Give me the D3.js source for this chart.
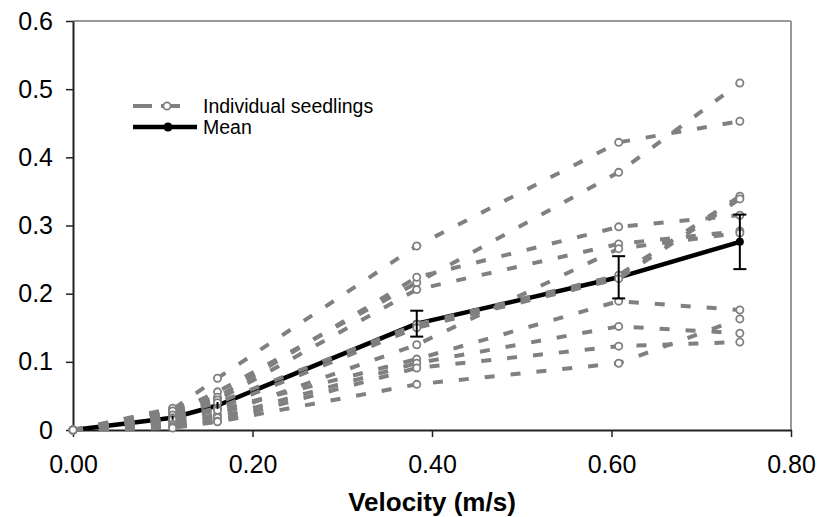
<!DOCTYPE html>
<html>
<head>
<meta charset="utf-8">
<script src="https://cdn.jsdelivr.net/npm/d3@7"></script>
<style>
  body { margin: 0; background: #fff; }
  svg { display: block; font-family: "Liberation Sans", Arial, sans-serif; }
</style>
</head>
<body>
<div id="chart"></div>
<script>
// data
var velocity = [0, 0.111, 0.161, 0.383, 0.608, 0.743];

var seedlings = [
    [0, 0.030, 0.076, 0.270, 0.422, 0.453],
    [0, 0.025, 0.056, 0.216, 0.378, 0.509],
    [0, 0.032, 0.048, 0.224, 0.298, 0.315],
    [0, 0.028, 0.044, 0.206, 0.273, 0.292],
    [0, 0.022, 0.040, 0.155, 0.227, 0.343],
    [0, 0.018, 0.032, 0.150, 0.222, 0.339],
    [0, 0.012, 0.022, 0.125, 0.266, 0.289],
    [0, 0.015, 0.029, 0.104, 0.189, 0.176],
    [0, 0.008, 0.018, 0.098, 0.152, 0.142],
    [0, 0.005, 0.013, 0.091, 0.123, 0.129],
    [0, 0.003, 0.012, 0.067, 0.098, 0.163]
];

var meanValues = [0, 0.018, 0.036, 0.156, 0.224, 0.276];
var meanErr = [0, 0.003, 0.005, 0.019, 0.031, 0.040];

var xTicks = [0, 0.2, 0.4, 0.6, 0.8];
var xTickLabels = ["0.00", "0.20", "0.40", "0.60", "0.80"];
var yTicks = [0, 0.1, 0.2, 0.3, 0.4, 0.5, 0.6];
var yTickLabels = ["0", "0.1", "0.2", "0.3", "0.4", "0.5", "0.6"];

var legendLabels = ["Individual seedlings", "Mean"];

//setup SVG

var w = 819
var h = 517
var plotLeft = 73, plotRight = 791, plotTop = 21, plotBottom = 430

var svg = d3.select("#chart")
    .append("svg")
    .attr("width", w)
    .attr("height", h)

var x = d3.scaleLinear().domain([0, 0.8]).range([plotLeft, plotRight])
var y = d3.scaleLinear().domain([0, 0.6]).range([plotBottom, plotTop])

// frame: top and right in grey
svg.append("line")
    .attr("x1", plotLeft).attr("x2", plotRight)
    .attr("y1", plotTop).attr("y2", plotTop)
    .attr("stroke", "#999").attr("stroke-width", 2)
svg.append("line")
    .attr("x1", plotRight).attr("x2", plotRight)
    .attr("y1", plotTop).attr("y2", plotBottom)
    .attr("stroke", "#999").attr("stroke-width", 2)

// axes

var xAxis = d3.axisBottom(x)
    .tickValues(xTicks)
    .tickFormat(function(d, i) { return xTickLabels[i]; })
    .tickSize(7)
    .tickSizeOuter(0)
    .tickPadding(18)

var yAxis = d3.axisLeft(y)
    .tickValues(yTicks)
    .tickFormat(function(d, i) { return yTickLabels[i]; })
    .tickSize(7)
    .tickSizeOuter(0)
    .tickPadding(13)

svg.append("g")
    .attr("transform", "translate(0," + plotBottom + ")")
    .call(xAxis)

svg.append("g")
    .attr("transform", "translate(" + plotLeft + ",0)")
    .call(yAxis)

svg.selectAll(".domain").attr("stroke", "#222").attr("stroke-width", 2)
svg.selectAll(".tick line").attr("stroke", "#222").attr("stroke-width", 1.5)
svg.selectAll(".tick text")
    .attr("font-size", 25)
    .attr("font-family", "Liberation Sans, Arial, sans-serif")
    .attr("fill", "#000")

svg.append("text")
    .attr("x", (plotLeft + plotRight) / 2)
    .attr("y", 511)
    .attr("text-anchor", "middle")
    .attr("font-size", 26)
    .attr("font-weight", "bold")
    .text("Velocity (m/s)")

// mean line (drawn under the individual seedlings)

var line = d3.line()
    .x(function(d, i) { return x(velocity[i]); })
    .y(function(d) { return y(d); })

svg.append("path")
    .attr("d", line(meanValues))
    .attr("fill", "none")
    .attr("stroke", "#000")
    .attr("stroke-width", 4.5)
    .attr("stroke-linejoin", "round")

svg.selectAll(".meanDot")
    .data(meanValues)
    .enter()
    .append("circle")
    .attr("class", "meanDot")
    .attr("cx", function(d, i) { return x(velocity[i]); })
    .attr("cy", function(d) { return y(d); })
    .attr("r", 4)
    .attr("fill", "#000")

// individual seedlings

seedlings.forEach(function(s) {
    svg.append("path")
        .attr("d", line(s))
        .attr("fill", "none")
        .attr("stroke", "#808080")
        .attr("stroke-width", 4)
        .attr("stroke-dasharray", "10,16")
})

seedlings.forEach(function(s) {
    svg.selectAll(null)
        .data(s)
        .enter()
        .append("circle")
        .attr("cx", function(d, i) { return x(velocity[i]); })
        .attr("cy", function(d) { return y(d); })
        .attr("r", 3.6)
        .attr("fill", "#fff")
        .attr("stroke", "#808080")
        .attr("stroke-width", 1.8)
})

// error bars on the mean

var errData = meanValues.map(function(d, i) {
    return { v: velocity[i], lo: d - meanErr[i], hi: d + meanErr[i], e: meanErr[i] };
})

svg.selectAll(".err")
    .data(errData)
    .enter()
    .append("line")
    .attr("class", "err")
    .attr("x1", function(d) { return x(d.v); })
    .attr("x2", function(d) { return x(d.v); })
    .attr("y1", function(d) { return y(d.lo); })
    .attr("y2", function(d) { return y(d.hi); })
    .attr("stroke", "#000").attr("stroke-width", 2)

var capped = errData.filter(function(d) { return d.e > 0.01; })
var caps = []
capped.forEach(function(d) { caps.push([d.v, d.lo], [d.v, d.hi]); })

svg.selectAll(".cap")
    .data(caps)
    .enter()
    .append("line")
    .attr("class", "cap")
    .attr("x1", function(d) { return x(d[0]) - 6.5; })
    .attr("x2", function(d) { return x(d[0]) + 6.5; })
    .attr("y1", function(d) { return y(d[1]); })
    .attr("y2", function(d) { return y(d[1]); })
    .attr("stroke", "#000").attr("stroke-width", 2)

// legend

var lg = svg.append("g")

lg.append("line")
    .attr("x1", 133).attr("x2", 187)
    .attr("y1", 106).attr("y2", 106)
    .attr("stroke", "#808080").attr("stroke-width", 4)
    .attr("stroke-dasharray", "19,9")
lg.append("circle")
    .attr("cx", 167).attr("cy", 106).attr("r", 3.6)
    .attr("fill", "#fff").attr("stroke", "#808080").attr("stroke-width", 1.8)

lg.append("line")
    .attr("x1", 133).attr("x2", 197)
    .attr("y1", 127).attr("y2", 127)
    .attr("stroke", "#000").attr("stroke-width", 4.5)
lg.append("circle")
    .attr("cx", 168).attr("cy", 127).attr("r", 4.5)
    .attr("fill", "#000")

lg.selectAll("text")
    .data(legendLabels)
    .enter()
    .append("text")
    .attr("x", 203)
    .attr("y", function(d, i) { return 113 + i * 21; })
    .attr("font-size", 19.5)
    .text(function(d) { return d; })
</script>
</body>
</html>
